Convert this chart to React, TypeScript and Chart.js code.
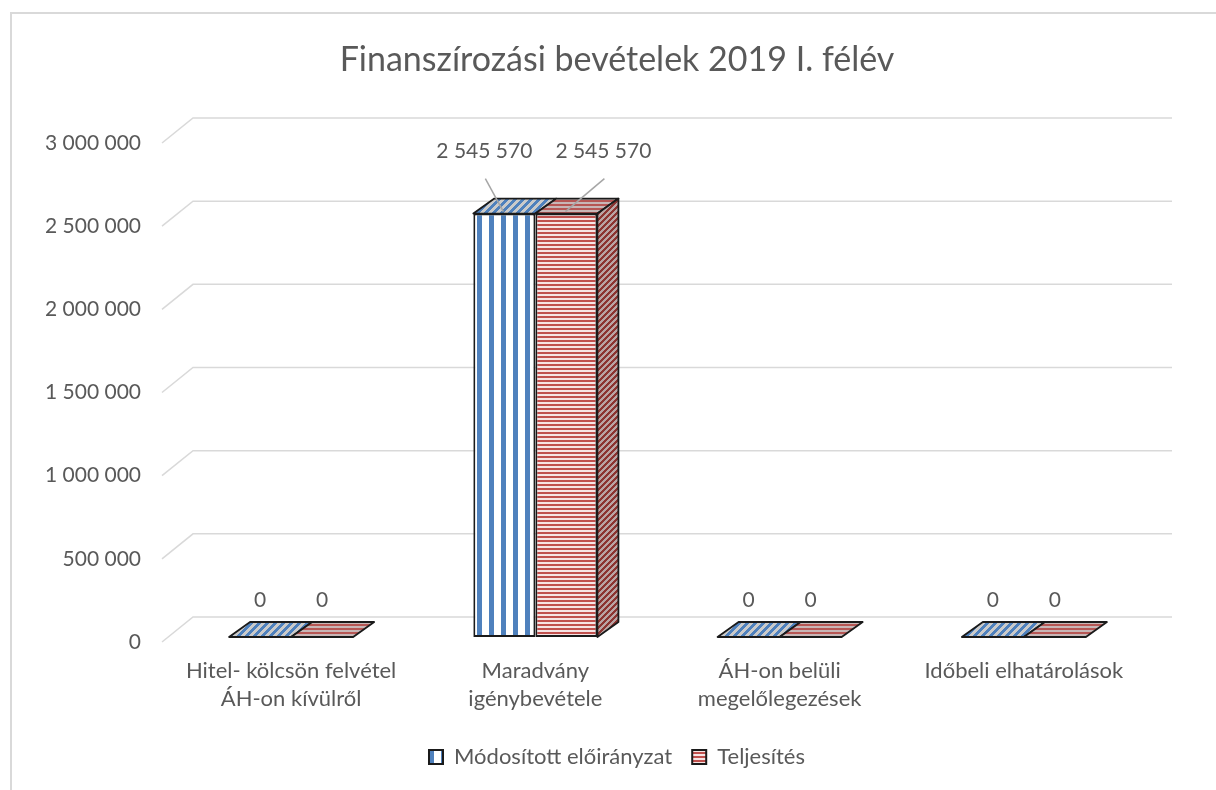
import React, { useEffect, useRef } from 'react';
import { Chart, registerables } from 'chart.js';

Chart.register(...registerables);

// ---- data ----
const TITLE = 'Finanszírozási bevételek 2019 I. félév';
const categories: string[][] = [
  ['Hitel- kölcsön felvétel', 'ÁH-on kívülről'],
  ['Maradvány', 'igénybevétele'],
  ['ÁH-on belüli', 'megelőlegezések'],
  ['Időbeli elhatárolások'],
];
const seriesNames = ['Módosított előirányzat', 'Teljesítés'];
const modositottEloiranyzat = [0, 2545570, 0, 0];
const teljesites = [0, 2545570, 0, 0];
const yMin = 0;
const yMax = 3000000;
const yStep = 500000;

// ---- style ----
const FONT = 'Lato';
const TEXT = '#595959';
const GRID = '#d9d9d9';
const DEPTH_X = 21;
const DEPTH_Y = -15;
const WALL_X = 31;
const WALL_Y = -25;

const fmt = (v: number) => String(Math.round(v)).replace(/\B(?=(\d{3})+(?!\d))/g, ' ');

function makePattern(ctx: CanvasRenderingContext2D, w: number, h: number, paint: (x: number, y: number) => string) {
  const c = document.createElement('canvas');
  c.width = w;
  c.height = h;
  const g = c.getContext('2d')!;
  for (let y = 0; y < h; y++) {
    for (let x = 0; x < w; x++) {
      g.fillStyle = paint(x, y);
      g.fillRect(x, y, 1, 1);
    }
  }
  return ctx.createPattern(c, 'repeat')!;
}

export default function App() {
  const ref = useRef<HTMLCanvasElement | null>(null);

  useEffect(() => {
    const canvas = ref.current!;
    const ctx0 = canvas.getContext('2d')!;
    const BLUE = '#4f81bd';
    const RED = '#c0504d';
    const blueFront = makePattern(ctx0, 12, 12, (x) => (x >= 9 || x < 2 ? BLUE : '#ffffff'));
    const redFront = makePattern(ctx0, 4, 4, (_x, y) => (y < 2 ? RED : '#f6e4e4'));
    const blueTop = makePattern(ctx0, 8, 8, (x, y) => ((x + y) % 8 < 4 ? BLUE : '#cacaca'));
    const redTop = makePattern(ctx0, 4, 4, (_x, y) => (y < 2 ? '#b65654' : '#c8b6b6'));
    const redSide = makePattern(ctx0, 6, 6, (x, y) => ((x + y) % 6 < 3 ? '#8c3431' : '#b9a3a3'));
    const tops = [blueTop, redTop];

    const threeD = {
      id: 'threeD',
      beforeDraw(chart: any) {
        const ctx = chart.ctx;
        ctx.save();
        ctx.fillStyle = '#ffffff';
        ctx.fillRect(0, 0, chart.width, chart.height);
        ctx.strokeStyle = GRID;
        ctx.lineWidth = 2;
        ctx.beginPath();
        ctx.moveTo(11, chart.height);
        ctx.lineTo(11, 13);
        ctx.lineTo(chart.width, 13);
        ctx.stroke();
        ctx.restore();
      },
      beforeDatasetsDraw(chart: any) {
        const { ctx, chartArea, scales } = chart;
        const y = scales.y;
        ctx.save();
        ctx.strokeStyle = GRID;
        ctx.lineWidth = 1.5;
        y.ticks.forEach((t: any) => {
          const p = y.getPixelForValue(t.value);
          ctx.beginPath();
          ctx.moveTo(chartArea.left - 7, p + 5);
          ctx.lineTo(chartArea.left - 7 + WALL_X, p + 5 + WALL_Y);
          ctx.lineTo(chartArea.right + 26, p + 5 + WALL_Y);
          ctx.stroke();
        });
        ctx.restore();
      },
      afterDatasetsDraw(chart: any) {
        const ctx = chart.ctx;
        const n = chart.data.datasets.length;
        ctx.save();
        ctx.lineJoin = 'round';
        for (let d = 0; d < n; d++) {
          const meta = chart.getDatasetMeta(d);
          meta.data.forEach((bar: any) => {
            const xL = bar.x - bar.width / 2;
            const xR = bar.x + bar.width / 2;
            const top = Math.min(bar.y, bar.base);
            const bottom = bar.base;
            ctx.beginPath();
            ctx.moveTo(xL, top);
            ctx.lineTo(xR, top);
            ctx.lineTo(xR + DEPTH_X, top + DEPTH_Y);
            ctx.lineTo(xL + DEPTH_X, top + DEPTH_Y);
            ctx.closePath();
            ctx.fillStyle = tops[d];
            ctx.fill();
            ctx.strokeStyle = '#1a1a1a';
            ctx.lineWidth = 1.8;
            ctx.stroke();
            if (d === n - 1 && bottom - top > 1) {
              ctx.beginPath();
              ctx.moveTo(xR, top);
              ctx.lineTo(xR + DEPTH_X, top + DEPTH_Y);
              ctx.lineTo(xR + DEPTH_X, bottom + DEPTH_Y);
              ctx.lineTo(xR, bottom);
              ctx.closePath();
              ctx.fillStyle = redSide;
              ctx.fill();
              ctx.stroke();
            }
          });
        }
        ctx.font = `21px ${FONT}`;
        ctx.fillStyle = TEXT;
        ctx.textAlign = 'center';
        ctx.textBaseline = 'middle';
        for (let d = 0; d < n; d++) {
          const meta = chart.getDatasetMeta(d);
          const values = chart.data.datasets[d].data;
          meta.data.forEach((bar: any, i: number) => {
            const v = values[i];
            const top = Math.min(bar.y, bar.base);
            if (bar.base - top > 40) {
              const lx = bar.x + (d === 0 ? -20 : 37);
              const ly = top - 62;
              ctx.strokeStyle = '#a6a6a6';
              ctx.lineWidth = 1.5;
              ctx.beginPath();
              ctx.moveTo(lx + 1, ly + 27);
              ctx.lineTo(bar.x - 1, top - 2);
              ctx.stroke();
              ctx.fillText(fmt(v), lx, ly);
            } else {
              ctx.fillText(fmt(v), bar.x, top - 37);
            }
          });
        }
        ctx.restore();
      },
    };

    const chart = new Chart(canvas, {
      type: 'bar',
      data: {
        labels: categories,
        datasets: [
          {
            label: seriesNames[0],
            data: modositottEloiranyzat,
            backgroundColor: blueFront,
            borderColor: '#1a1a1a',
            borderWidth: 2,
            borderSkipped: false,
          },
          {
            label: seriesNames[1],
            data: teljesites,
            backgroundColor: redFront,
            borderColor: '#1a1a1a',
            borderWidth: 2,
            borderSkipped: false,
          },
        ],
      },
      options: {
        responsive: false,
        animation: false,
        devicePixelRatio: 1,
        layout: { padding: { left: 30, right: 12, top: 0, bottom: 12 } },
        datasets: { bar: { categoryPercentage: 0.508, barPercentage: 1 } },
        plugins: {
          title: {
            display: true,
            text: TITLE,
            color: TEXT,
            font: { family: FONT, size: 34, weight: 'normal', lineHeight: 1.2 },
            padding: { top: 39.6, bottom: 57.6 },
          },
          legend: {
            position: 'bottom',
            labels: {
              color: TEXT,
              font: { family: FONT, size: 22 },
              boxWidth: 14,
              boxHeight: 14,
              padding: 20,
            },
          },
          tooltip: { enabled: false },
        },
        scales: {
          x: {
            grid: { display: false, drawTicks: false },
            border: { display: false },
            ticks: {
              color: TEXT,
              font: { family: FONT, size: 22, lineHeight: 1.27 },
              padding: 20,
              maxRotation: 0,
              autoSkip: false,
            },
            afterFit: (s: any) => {
              s.height = 89;
            },
          },
          y: {
            min: yMin,
            max: yMax,
            grid: { display: false, drawTicks: false },
            border: { display: false },
            ticks: {
              stepSize: yStep,
              color: TEXT,
              font: { family: FONT, size: 21 },
              padding: 28,
              labelOffset: 5,
              callback: (v: any) => fmt(Number(v)),
            },
            afterFit: (s: any) => {
              s.width = 139;
            },
          },
          y2: {
            position: 'right',
            min: yMin,
            max: yMax,
            grid: { display: false, drawTicks: false },
            border: { display: false },
            ticks: { display: false },
            afterFit: (s: any) => {
              s.width = 58;
            },
          },
        },
      },
      plugins: [threeD],
    } as any);

    return () => chart.destroy();
  }, []);

  return (
    <div style={{ position: 'absolute', left: 0, top: 0, width: 1216, height: 790 }}>
      <canvas ref={ref} width={1216} height={790} style={{ width: 1216, height: 790, display: 'block' }} />
    </div>
  );
}
